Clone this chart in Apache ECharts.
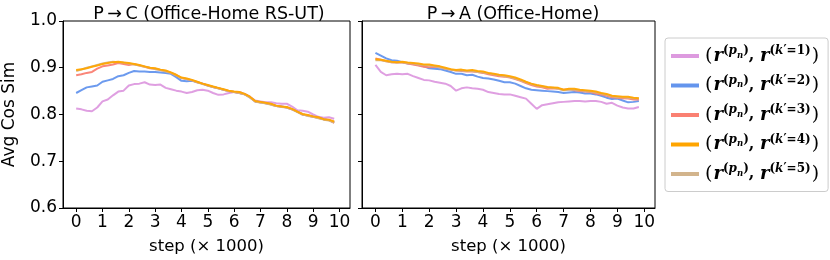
<!DOCTYPE html>
<html><head><meta charset="utf-8">
<script src="https://cdn.jsdelivr.net/npm/echarts@6/dist/echarts.min.js"></script>
<style>html,body{margin:0;padding:0;background:#fff}#c{width:830px;height:260px}</style>
</head><body><div id="c"></div>
<script>
// step positions (× 1000)
const steps = [0,0.2,0.4,0.6,0.8,1.0,1.2,1.4,1.6,1.8,2.0,2.2,2.4,2.6,2.8,3.0,3.2,3.4,3.6,3.8,4.0,4.2,4.4,4.6,4.8,5.0,5.2,5.4,5.6,5.8,6.0,6.2,6.4,6.6,6.8,7.0,7.2,7.4,7.6,7.8,8.0,8.2,8.4,8.6,8.8,9.0,9.2,9.4,9.6,9.8];
const xTicks = [0,1,2,3,4,5,6,7,8,9,10];
const yTicks = [0.6,0.7,0.8,0.9,1.0];
const titles = ['P\u2009\u2192\u2009C (Office-Home RS-UT)', 'P\u2009\u2192\u2009A (Office-Home)'];
const seriesNames = ['k1','k2','k3','k4','k5'];

// Panel 1: P -> C (Office-Home RS-UT)
const pc_k1 = [0.813,0.811,0.808,0.807,0.815,0.828,0.832,0.841,0.849,0.851,0.862,0.865,0.866,0.869,0.864,0.863,0.864,0.857,0.854,0.851,0.849,0.846,0.848,0.852,0.853,0.851,0.846,0.842,0.843,0.846,0.848,0.848,0.844,0.838,0.830,0.828,0.826,0.826,0.824,0.823,0.823,0.817,0.809,0.808,0.806,0.800,0.795,0.793,0.794,0.791];
const pc_k2 = [0.846,0.852,0.858,0.860,0.862,0.870,0.873,0.876,0.882,0.884,0.889,0.893,0.892,0.892,0.891,0.891,0.890,0.889,0.887,0.880,0.872,0.871,0.872,0.869,0.866,0.862,0.859,0.856,0.853,0.850,0.848,0.846,0.843,0.837,0.828,0.826,0.824,0.822,0.818,0.817,0.815,0.811,0.806,0.800,0.798,0.795,0.793,0.790,0.788,0.783];
const pc_k3 = [0.884,0.886,0.889,0.891,0.898,0.903,0.905,0.907,0.910,0.908,0.906,0.908,0.905,0.902,0.899,0.898,0.895,0.893,0.889,0.884,0.878,0.876,0.873,0.869,0.866,0.862,0.859,0.856,0.853,0.850,0.848,0.846,0.843,0.837,0.828,0.826,0.824,0.822,0.818,0.817,0.815,0.811,0.806,0.800,0.798,0.795,0.793,0.790,0.788,0.782];
const pc_k4 = [0.895,0.897,0.899,0.902,0.905,0.908,0.910,0.912,0.913,0.911,0.910,0.908,0.906,0.903,0.900,0.899,0.896,0.894,0.890,0.885,0.879,0.877,0.874,0.870,0.866,0.863,0.860,0.857,0.854,0.851,0.849,0.848,0.844,0.838,0.829,0.827,0.825,0.823,0.819,0.817,0.816,0.812,0.806,0.801,0.799,0.796,0.794,0.790,0.789,0.785];
const pc_k5 = [0.893,0.896,0.900,0.903,0.906,0.909,0.911,0.913,0.912,0.911,0.909,0.907,0.905,0.902,0.900,0.897,0.895,0.892,0.889,0.884,0.878,0.876,0.873,0.869,0.865,0.862,0.859,0.856,0.853,0.850,0.848,0.846,0.843,0.836,0.828,0.825,0.824,0.821,0.818,0.816,0.815,0.811,0.805,0.800,0.797,0.795,0.792,0.789,0.787,0.783];

// Panel 2: P -> A (Office-Home)
const pa_k1 = [0.906,0.891,0.884,0.886,0.887,0.886,0.887,0.882,0.878,0.874,0.873,0.870,0.868,0.866,0.861,0.851,0.856,0.858,0.856,0.855,0.853,0.848,0.846,0.844,0.843,0.843,0.840,0.837,0.834,0.823,0.812,0.820,0.822,0.824,0.826,0.827,0.828,0.829,0.829,0.828,0.829,0.829,0.827,0.823,0.825,0.819,0.815,0.813,0.813,0.816];
const pa_k2 = [0.932,0.926,0.920,0.916,0.915,0.912,0.909,0.908,0.906,0.903,0.899,0.898,0.897,0.894,0.891,0.887,0.887,0.884,0.885,0.881,0.878,0.877,0.875,0.872,0.869,0.869,0.866,0.861,0.856,0.853,0.852,0.851,0.850,0.849,0.848,0.846,0.847,0.848,0.847,0.845,0.845,0.843,0.840,0.836,0.833,0.834,0.830,0.826,0.827,0.829];
const pa_k3 = [0.920,0.917,0.914,0.912,0.911,0.911,0.909,0.907,0.905,0.902,0.901,0.902,0.901,0.898,0.896,0.894,0.893,0.892,0.892,0.891,0.889,0.886,0.884,0.882,0.881,0.879,0.876,0.872,0.867,0.863,0.860,0.858,0.855,0.856,0.855,0.853,0.854,0.852,0.850,0.849,0.848,0.845,0.843,0.840,0.837,0.836,0.835,0.834,0.832,0.832];
const pa_k4 = [0.918,0.917,0.915,0.913,0.912,0.913,0.911,0.910,0.909,0.907,0.907,0.905,0.903,0.900,0.897,0.895,0.896,0.894,0.895,0.893,0.892,0.889,0.887,0.885,0.884,0.882,0.879,0.875,0.870,0.866,0.863,0.861,0.859,0.858,0.857,0.853,0.855,0.855,0.853,0.852,0.851,0.849,0.846,0.844,0.840,0.839,0.838,0.838,0.836,0.835];
const pa_k5 = [0.916,0.916,0.914,0.912,0.911,0.911,0.910,0.909,0.907,0.906,0.905,0.903,0.901,0.898,0.896,0.894,0.894,0.893,0.893,0.891,0.890,0.888,0.886,0.884,0.882,0.880,0.877,0.873,0.869,0.865,0.862,0.860,0.858,0.857,0.855,0.852,0.853,0.853,0.852,0.850,0.849,0.847,0.845,0.842,0.839,0.837,0.837,0.836,0.835,0.834];

const colors = {k1:'#DD9ADF', k2:'#6495ED', k3:'#FA8072', k4:'#FFA500', k5:'#D2B48C'};
const legendLabels = {k1:'1', k2:'2', k3:'3', k4:'4', k5:'5'};

const panels = [
  {k1:pc_k1,k2:pc_k2,k3:pc_k3,k4:pc_k4,k5:pc_k5},
  {k1:pa_k1,k2:pa_k2,k3:pa_k3,k4:pa_k4,k5:pa_k5}
];

const drawOrder = ['k1','k2','k3','k5','k4'];
const series = [];
panels.forEach((p, gi) => {
  drawOrder.forEach(k => {
    series.push({
      name: k, type: 'line', xAxisIndex: gi, yAxisIndex: gi,
      data: steps.map((s, i) => [s, p[k][i]]),
      showSymbol: false, symbol: 'none', silent: true,
      lineStyle: {color: colors[k], width: 2, opacity: 0.95},
      itemStyle: {color: colors[k]},
      z: 2
    });
  });
});

const tickFont = {fontFamily: 'DejaVu Sans', fontSize: 17, color: '#000'};
const nameFont = {fontFamily: 'DejaVu Sans', fontSize: 16.5, color: '#000'};
function xAxis(gi) {
  return {
    type: 'value', gridIndex: gi, min: -0.5, max: 10.4,
    name: 'step (\u00d7 1000)', nameLocation: 'middle', nameGap: 30,
    nameTextStyle: nameFont,
    axisLine: {show: true, onZero: false, lineStyle: {color: '#000', width: 1}},
    axisTick: {show: true, customValues: xTicks, length: 4, lineStyle: {color: '#000'}},
    axisLabel: {customValues: xTicks, margin: 6, ...tickFont},
    splitLine: {show: false}
  };
}
function yAxis(gi) {
  return {
    type: 'value', gridIndex: gi, min: 0.6, max: 1.0,
    name: gi === 0 ? 'Avg Cos Sim' : '', nameLocation: 'middle', nameGap: 45, nameRotate: 90,
    nameTextStyle: {...nameFont, fontSize: 17},
    axisLine: {show: true, onZero: false, lineStyle: {color: '#000', width: 1}},
    axisTick: {show: true, customValues: yTicks, length: 4, lineStyle: {color: '#000'}},
    axisLabel: {show: gi === 0, customValues: yTicks, margin: 6, formatter: v => v.toFixed(1), ...tickFont},
    splitLine: {show: false}
  };
}

const chart = echarts.init(document.getElementById('c'), null, {renderer: 'canvas'});
chart.setOption({
  animation: false,
  backgroundColor: '#fff',
  title: [
    {text: titles[0], left: 204, top: 0, textAlign: 'center', textStyle: {fontFamily: 'DejaVu Sans', fontSize: 17.5, fontWeight: 'normal', color: '#000'}},
    {text: titles[1], left: 508, top: 0, textAlign: 'center', textStyle: {fontFamily: 'DejaVu Sans', fontSize: 17.5, fontWeight: 'normal', color: '#000'}}
  ],
  grid: [
    {left: 58, top: 21, width: 292, height: 194, show: true, borderColor: '#000', borderWidth: 1, backgroundColor: 'transparent'},
    {left: 362, top: 21, width: 293, height: 194, show: true, borderColor: '#000', borderWidth: 1, backgroundColor: 'transparent'}
  ],
  xAxis: [xAxis(0), xAxis(1)],
  yAxis: [yAxis(0), yAxis(1)],
  legend: {
    data: seriesNames, orient: 'vertical', left: 665, top: 38,
    padding: [7, 8, 8, 6], itemGap: 9, itemWidth: 28, itemHeight: 4, itemTextGap: 6,
    icon: 'rect', borderColor: '#cccccc', borderWidth: 1, borderRadius: 3, backgroundColor: '#fff',
    selectedMode: false,
    formatter: name => '{p|(}{r|r}{s|(}{si|p}{ss|n}{s|)}{c|, }{r|r}{s|(}{si|k}{s|\u2032=' + legendLabels[name] + ')}{p|)}',
    textStyle: {
      color: '#000', fontFamily: 'DejaVu Serif',
      rich: {
        p: {fontSize: 19, fontFamily: 'DejaVu Serif', lineHeight: 22, color: '#000', padding: [0, 1, 0, 1]},
        r: {fontSize: 18, fontFamily: 'DejaVu Serif', fontWeight: 'bold', fontStyle: 'italic', lineHeight: 20, color: '#000'},
        c: {fontSize: 16, fontFamily: 'DejaVu Serif', fontWeight: 'bold', lineHeight: 20, color: '#000'},
        s: {fontSize: 12, fontFamily: 'DejaVu Serif', fontWeight: 'bold', verticalAlign: 'top', lineHeight: 13, color: '#000'},
        si: {fontSize: 12, fontFamily: 'DejaVu Serif', fontWeight: 'bold', fontStyle: 'italic', verticalAlign: 'top', lineHeight: 13, color: '#000'},
        ss: {fontSize: 8.5, fontFamily: 'DejaVu Serif', fontWeight: 'bold', fontStyle: 'italic', verticalAlign: 'top', lineHeight: 9, padding: [6, 0, 0, 0], color: '#000'}
      }
    }
  },
  series: series
});
</script></body></html>
